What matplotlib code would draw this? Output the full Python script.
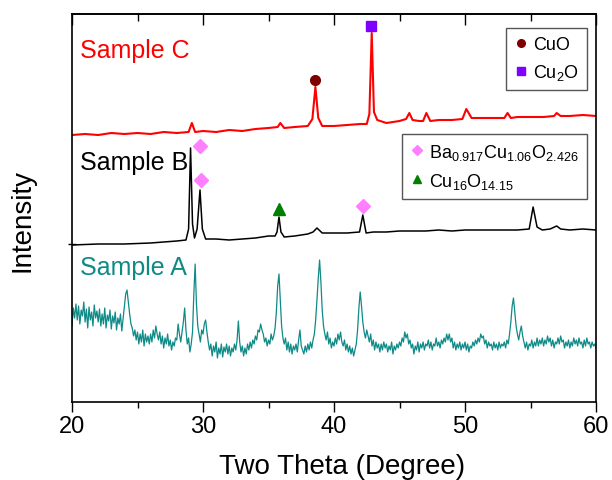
import numpy as np
import matplotlib
matplotlib.use("Agg")
import matplotlib.pyplot as plt
from matplotlib.lines import Line2D

plt.rcParams['font.family'] = ['Liberation Sans', 'DejaVu Sans']

# ---- data (heights in arbitrary units, offsets included) ----
# Sample A (teal), read every 0.1 degree
a_x = np.round(np.arange(20.0, 60.01, 0.1), 1)
a_y = [78, 96, 86, 100, 84, 98, 80, 94, 88, 102, 82, 95, 76, 97, 84, 92, 78, 99, 86, 93,
       82, 95, 78, 90, 80, 96, 76, 89, 83, 94, 75, 88, 81, 92, 74, 86, 80, 90, 73, 85,
       98, 110, 114, 102, 90, 80, 76, 68, 74, 64, 72, 60, 70, 62, 74, 58, 70, 62, 68, 60,
       70, 62, 74, 66, 78, 70, 64, 72, 60, 68, 56, 66, 60, 70, 58, 64, 54, 62, 58, 66,
       64, 80, 70, 62, 72, 82, 96, 74, 60, 66, 52, 60, 72, 110, 140, 100, 78, 70, 62, 74,
       70, 80, 84, 72, 62, 54, 60, 48, 58, 52, 62, 46, 56, 50, 60, 47, 57, 52, 60, 50,
       58, 48, 56, 52, 60, 54, 64, 83, 62, 52, 58, 48, 56, 50, 60, 54, 62, 56, 64, 60,
       68, 64, 74, 72, 80, 74, 70, 62, 66, 58, 64, 60, 70, 64, 68, 76, 92, 118, 130, 104,
       78, 66, 60, 66, 54, 62, 52, 60, 50, 58, 54, 60, 52, 64, 74, 58, 54, 50, 58, 52,
       60, 54, 62, 56, 64, 70, 84, 104, 126, 144, 122, 94, 78, 70, 64, 72, 60, 66, 56, 62,
       58, 66, 60, 70, 64, 72, 62, 58, 64, 54, 60, 52, 58, 50, 56, 48, 54, 60, 74, 96,
       112, 98, 82, 72, 66, 74, 68, 62, 70, 58, 64, 54, 62, 56, 60, 52, 60, 54, 62, 56,
       60, 52, 58, 54, 62, 50, 58, 54, 60, 56, 62, 58, 66, 62, 72, 66, 70, 60, 64, 56,
       60, 50, 58, 54, 62, 52, 60, 56, 62, 54, 60, 58, 64, 56, 62, 54, 60, 58, 66, 58,
       62, 56, 64, 60, 66, 62, 70, 64, 70, 62, 66, 56, 62, 54, 60, 56, 62, 54, 60, 56,
       62, 54, 60, 52, 58, 56, 62, 58, 64, 60, 66, 62, 70, 66, 68, 60, 64, 56, 62, 58,
       60, 54, 62, 56, 60, 54, 62, 56, 60, 58, 62, 56, 64, 60, 70, 82, 98, 106, 92, 78,
       70, 64, 72, 78, 68, 62, 56, 62, 54, 60, 58, 64, 56, 62, 58, 66, 58, 64, 60, 66,
       58, 64, 60, 68, 62, 66, 58, 64, 56, 62, 60, 66, 60, 68, 62, 64, 56, 62, 58, 64,
       56, 62, 58, 66, 60, 64, 58, 66, 60, 62, 56, 64, 58, 66, 60, 62, 56, 62, 58, 60,
       56]

# Sample B (black)
b_x = [20, 22, 24, 26, 27, 28, 28.7, 28.9, 29.05, 29.2, 29.35, 29.55, 29.77, 29.95, 30.2,
       31, 32, 33, 34, 35, 35.5, 35.65, 35.8, 35.95, 36.2, 37, 38, 38.4, 38.7, 39.1,
       40, 41, 41.95, 42.2, 42.45, 43, 44, 45, 46, 47, 48, 49, 50, 51, 52, 53, 54,
       54.9, 55.2, 55.5, 55.9, 56.5, 57.0, 57.3, 58, 59, 60]
b_y = [159, 160, 160, 161, 162, 163, 164, 175, 256, 180, 166, 175, 214, 175, 165,
       165, 164, 165, 166, 168, 168, 172, 187, 172, 167, 168, 170, 172, 176, 171,
       171, 171, 172, 189, 171, 172, 172, 173, 173, 173, 174, 173, 174, 174, 174, 174, 174,
       175, 197, 177, 174, 175, 178, 175, 174, 175, 174]

# Sample C (red)
c_x = [20, 21, 22, 23, 24, 25, 26, 27, 28, 28.9, 29.15, 29.4, 30, 31, 32, 33, 34, 35,
       35.7, 35.9, 36.2, 37, 38.0, 38.35, 38.58, 38.8, 39.1, 40, 41, 42,
       42.5, 42.7, 42.88, 43.05, 43.3, 44, 45, 45.5, 45.75, 46.0, 46.5, 46.8, 47.05, 47.35,
       48, 49, 49.8, 50.1, 50.5, 51, 52, 53, 53.25, 53.5, 54, 55, 56, 56.8, 57.0, 57.3,
       58, 59, 60]
c_y = [269, 270, 269, 271, 270, 271, 270, 272, 271, 272, 281, 272, 273, 272, 274, 273, 275, 276,
       277, 281, 276, 277, 278, 285, 317, 286, 278, 278, 279, 280,
       280, 290, 371, 292, 284, 281, 283, 285, 291, 284, 283, 283, 291, 283,
       284, 284, 285, 295, 286, 286, 286, 286, 291, 286, 287, 287, 287, 288, 291, 288,
       288, 289, 288]

# phase markers
cuo = ([38.58], [324])
cu2o = ([42.85], [378])
ba_phase = ([29.77, 29.85, 42.25], [258, 224, 198])
cu16 = ([35.8], [195])

teal = '#0e8a87'

fig = plt.figure(figsize=(6.12, 4.81), dpi=100)
ax = fig.add_axes([72 / 612, 78 / 481, 524 / 612, 388 / 481])

ax.plot(a_x, a_y, color=teal, lw=0.9)
ax.plot(b_x, b_y, color='black', lw=1.1)
ax.plot(c_x, c_y, color='red', lw=1.5)

ax.plot(*cuo, 'o', color='#7f0000', ms=7, ls='none')
ax.plot(*cu2o, 's', color='#8000ff', ms=7, ls='none')
ax.plot(*ba_phase, 'D', color='#ff80ff', ms=7, ls='none')
ax.plot(*cu16, '^', color='#007f00', ms=8, ls='none')

ax.text(20.6, 354, 'Sample C', color='red', fontsize=18, va='center')
ax.text(20.6, 242, 'Sample B', color='black', fontsize=18, va='center')
ax.text(20.6, 137, 'Sample A', color=teal, fontsize=18, va='center')

ax.set_xlim(20, 60)
ax.set_ylim(2, 390)
ax.set_xticks([20, 30, 40, 50, 60])
ax.set_xticks([25, 35, 45, 55], minor=True)
ax.set_yticks([160])
ax.tick_params(axis='y', direction='inout', length=6, width=1, labelleft=False)
ax.tick_params(axis='x', which='major', direction='out', length=7, width=1, labelsize=17, pad=2.5, top=False)
ax.tick_params(axis='x', which='minor', direction='out', length=4, width=1, top=False)

# mirrored ticks on top, pointing in
top = ax.secondary_xaxis('top')
top.set_xticks([20, 30, 40, 50, 60])
top.set_xticks([25, 35, 45, 55], minor=True)
top.tick_params(axis='x', which='major', direction='in', length=8, width=1, labeltop=False)
top.tick_params(axis='x', which='minor', direction='in', length=5, width=1)
top.spines['top'].set_linewidth(1.2)

for s in ax.spines.values():
    s.set_linewidth(1.2)

ax.set_xlabel('Two Theta (Degree)', fontsize=20, va='center')
ax.xaxis.set_label_coords(0.515, (405 - 469) / 388)
ax.set_ylabel('Intensity', fontsize=20, va='center')
ax.yaxis.set_label_coords((23 - 72) / 524, (403 - 221) / 388)

leg_kw = dict(fontsize=13, frameon=True, fancybox=False, framealpha=1, edgecolor='#555555',
              handlelength=0.7, handletextpad=0.35, labelspacing=0.5, borderpad=0.45, borderaxespad=0)

h_c = [Line2D([], [], marker='o', color='#7f0000', ls='none', ms=5.5),
       Line2D([], [], marker='s', color='#8000ff', ls='none', ms=5.5)]
leg1 = ax.legend(h_c, ['CuO', r'Cu$\mathregular{_2}$O'], loc='upper right',
                 bbox_to_anchor=(0.983, 0.964), **leg_kw)
leg1.get_frame().set_linewidth(1.0)
ax.add_artist(leg1)

h_b = [Line2D([], [], marker='D', color='#ff80ff', ls='none', ms=5.5),
       Line2D([], [], marker='^', color='#007f00', ls='none', ms=6)]
leg2 = ax.legend(h_b, [r'Ba$\mathregular{_{0.917}}$Cu$\mathregular{_{1.06}}$O$\mathregular{_{2.426}}$',
                       r'Cu$\mathregular{_{16}}$O$\mathregular{_{14.15}}$'],
                 loc='upper right', bbox_to_anchor=(0.983, 0.692), **leg_kw)
leg2.get_frame().set_linewidth(1.0)

fig.savefig('out.png', dpi=100)
